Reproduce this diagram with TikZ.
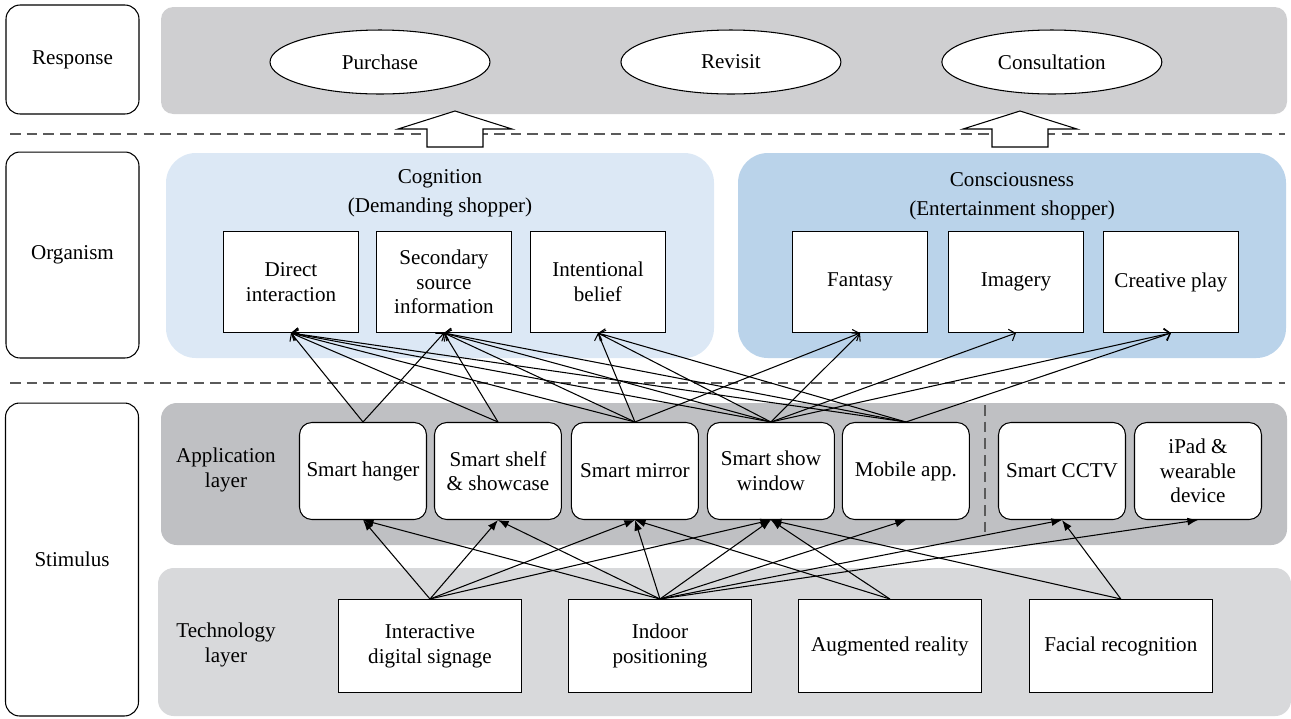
\documentclass[tikz,border=0pt]{standalone}
\usepackage{fontspec}
\setmainfont{Liberation Serif}
\usepackage{tikz}
\usetikzlibrary{positioning,shapes.geometric,arrows.meta}

\definecolor{respgray}{RGB}{207,207,209}
\definecolor{coglight}{RGB}{220,232,245}
\definecolor{conblue}{RGB}{186,211,234}
\definecolor{appgray}{RGB}{191,192,195}
\definecolor{techgray}{RGB}{216,217,219}
\definecolor{dashgray}{RGB}{90,90,90}

\begin{document}
\begin{tikzpicture}[x=0.02cm,y=-0.02cm,on grid,
        font=\fontsize{12}{14}\selectfont,line width=0.6pt,
        side/.style={draw,rounded corners=8pt,fill=white,
                     minimum width=2.66cm,align=center},
        resp/.style={draw,fill=white,ellipse,minimum width=4.4cm,
                     minimum height=1.28cm},
        obox/.style={draw,fill=white,minimum width=2.7cm,
                     minimum height=2.02cm,align=center},
        abox/.style={draw,fill=white,rounded corners=7pt,minimum width=2.54cm,
                     minimum height=1.94cm,align=center,inner sep=1pt},
        tbox/.style={draw,fill=white,minimum width=3.66cm,
                     minimum height=1.86cm,align=center},
        divider/.style={dashgray,dash pattern=on 6pt off 3.5pt},
        tech/.style={-{Latex[length=6pt,width=4.5pt]}},
        infl/.style={-{Straight Barb[length=3pt,width=7pt]}}]
  \useasboundingbox (0,0) rectangle (1291,718);

  % bands
  \fill[respgray,rounded corners=7pt] (161,7) rectangle (1287,114);
  \fill[coglight,rounded corners=17pt] (166,153) rectangle (714,358);
  \fill[conblue,rounded corners=17pt] (738,153) rectangle (1286,358);
  \fill[appgray,rounded corners=9pt] (161,403) rectangle (1287,545);
  \fill[techgray,rounded corners=9pt] (158,568) rectangle (1291,716);

  \draw[divider] (10,134) -- (1285,134);
  \draw[divider] (10,383) -- (1285,383);
  \draw[divider] (985,405) -- (985,535);

  \node[side,minimum height=2.18cm] (rsp)  at (72.5,59.5) {Response};
  \node[side,minimum height=4.12cm] (org)  at (72.5,255)  {Organism};
  \node[side,minimum height=6.26cm] (stim) at (72,559.5)  {Stimulus};

  \node[resp] (purchase) at (380,62)         {Purchase};
  \node[resp] (revisit)  [right=7.02cm of purchase] {Revisit};
  \node[resp] (consult)  [right=6.42cm of revisit]  {Consultation};

  \foreach \ax in {455,1020}
    \draw[fill=white] (\ax,111) -- (\ax+57,129) -- (\ax+28,129) -- (\ax+28,147)
      -- (\ax-28,147) -- (\ax-28,129) -- (\ax-57,129) -- cycle;

  \node[align=center] (cog) at (440,193) {Cognition\\[2.5pt](Demanding shopper)};
  \node[align=center] (con) at (1012,196) {Consciousness\\[2.5pt](Entertainment shopper)};
  \node[obox] (direct) at (291,282)              {Direct\\interaction};
  \node[obox] (second) [right=3.06cm of direct]  {Secondary\\source\\information};
  \node[obox] (intent) [right=3.08cm of second]  {Intentional\\belief};
  \node[obox] (fantasy) at (860,282)             {Fantasy};
  \node[obox] (imagery) [right=3.12cm of fantasy] {Imagery};
  \node[obox] (creative) [right=3.1cm of imagery] {Creative play};

  \node[align=center] (applbl) at (226,470) {Application\\layer};
  \node[abox] (hanger) at (363,471)              {Smart hanger};
  \node[abox] (shelf)  [right=2.7cm of hanger]   {Smart shelf\\\& showcase};
  \node[abox] (mirror) [right=2.74cm of shelf]   {Smart mirror};
  \node[abox] (window) [right=2.72cm of mirror]  {Smart show\\window};
  \node[abox] (mobile) [right=2.7cm of window]   {Mobile app.};
  \node[abox] (cctv)   at (1062,471)             {Smart CCTV};
  \node[abox] (ipad)   [right=2.72cm of cctv]    {iPad \&\\wearable\\device};

  \node[align=center] (techlbl) at (226,645) {Technology\\layer};
  \node[tbox] (signage) at (430,646)            {Interactive\\digital signage};
  \node[tbox] (indoor)  [right=4.6cm of signage] {Indoor\\positioning};
  \node[tbox] (ar)      [right=4.6cm of indoor]  {Augmented reality};
  \node[tbox] (facial)  [right=4.62cm of ar]     {Facial recognition};

  \path[tech] (signage.north) edge (hanger.south) edge (shelf.south)
                              edge (mirror.south) edge (window.south)
              (indoor.north)  edge (hanger.south) edge (shelf.south)
                              edge (mirror.south) edge (window.south)
                              edge (mobile.south) edge (cctv.south)
                              edge (ipad.south)
              (ar.north)      edge (mirror.south) edge (window.south)
              (facial.north)  edge (window.south) edge (cctv.south);

  \path[infl] (hanger.north) edge (direct.south) edge (second.south)
              (shelf.north)  edge (direct.south) edge (second.south)
              (mirror.north) edge (direct.south) edge (second.south)
                             edge (intent.south) edge (fantasy.south)
              (window.north) edge (direct.south) edge (second.south)
                             edge (intent.south) edge (fantasy.south)
                             edge (imagery.south) edge (creative.south)
              (mobile.north) edge (direct.south) edge (second.south)
                             edge (intent.south) edge (creative.south);
\end{tikzpicture}
\end{document}
